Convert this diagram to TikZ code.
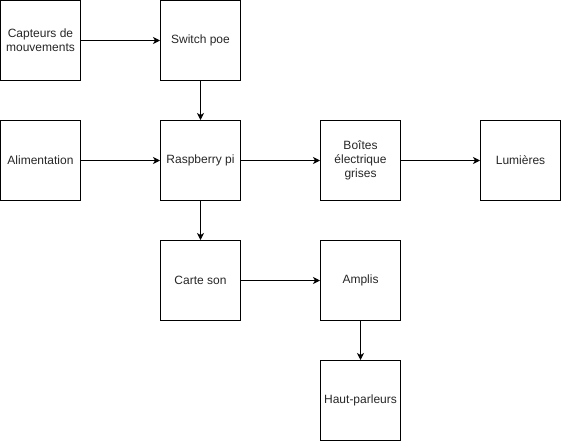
\documentclass[tikz,border=0pt]{standalone}
\usepackage{fontspec}
\setmainfont{Liberation Sans}
\usetikzlibrary{arrows.meta}
\tikzset{
  bloc/.style={draw, line width=1pt, minimum size=80pt, inner sep=2pt,
    align=center, font=\fontsize{12pt}{14pt}\selectfont, text=black!85},
  lien/.style={line width=1pt, -{Stealth[length=7pt,width=7pt,inset=2pt]}}
}
\begin{document}
\begin{tikzpicture}[x=1pt,y=-1pt]
            \useasboundingbox (0,0) rectangle (561,442);
            \node[bloc] (capteurs) at (40.5,40.5) {Capteurs de\\mouvements};
            \node[bloc] (switch) at (200.5,40.5) {Switch poe};
            \node[bloc] (alim) at (40.5,160.5) {Alimentation};
            \node[bloc] (rpi) at (200.5,160.5) {Raspberry pi};
            \node[bloc] (boites) at (360.5,160.5) {Boîtes\\électrique\\grises};
            \node[bloc] (lumieres) at (520.5,160.5) {Lumières};
            \node[bloc] (son) at (200.5,280.5) {Carte son};
            \node[bloc] (amplis) at (360.5,280.5) {Amplis};
            \node[bloc] (hp) at (360.5,400.5) {Haut-parleurs};
            \draw[lien] (capteurs) -- (switch);
            \draw[lien] (switch) -- (rpi);
            \draw[lien] (alim) -- (rpi);
            \draw[lien] (rpi) -- (boites);
            \draw[lien] (boites) -- (lumieres);
            \draw[lien] (rpi) -- (son);
            \draw[lien] (son) -- (amplis);
            \draw[lien] (amplis) -- (hp);
        \end{tikzpicture}
\end{document}
